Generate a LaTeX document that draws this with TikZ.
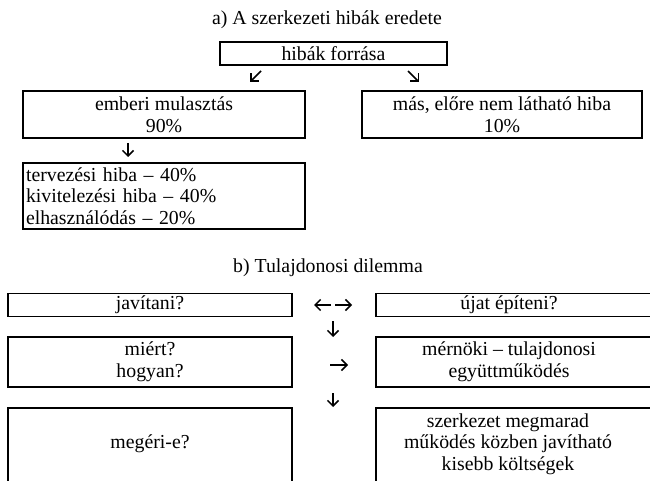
\documentclass[tikz,border=0pt]{standalone}
\usepackage{fontspec}
\setmainfont{Liberation Serif}
\usetikzlibrary{arrows.meta}
\begin{document}
\begin{tikzpicture}[x=1pt,y=-1pt,
  box/.style={draw, line width=1.9pt, inner sep=0pt, align=center, font=\fontsize{19.8}{21.5}\selectfont},
  txt/.style={inner sep=0pt, align=center, font=\fontsize{19.8}{21.5}\selectfont},
  arr/.style={line width=1.5pt, -{Straight Barb[length=5.5pt,width=11pt]}}]
\useasboundingbox (0,0) rectangle (650,481);
% part a
\node[txt] (ta) at (327,20) {a) A szerkezeti hibák eredete};
\node[box, minimum width=227pt, minimum height=23pt] (src) at (333.5,53.5) {hibák forrása};
\node[box, minimum width=282pt, minimum height=47pt] (hum) at (164,114.5) {emberi mulasztás\\90\%};
\node[box, minimum width=280pt, minimum height=47pt] (oth) at (502,114.5) {más, előre nem látható hiba\\10\%};
\node[box, minimum width=282pt, minimum height=66pt, text width=276pt, align=left] (det) at (164,196) {tervezési hiba – 40\%\\kivitelezési hiba – 40\%\\elhasználódás – 20\%};
\coordinate (a1s) at (261,71); \coordinate (a1e) at (250,82);
\coordinate (a2s) at (408,71); \coordinate (a2e) at (419,82);
\coordinate (a3s) at (128,143); \coordinate (a3e) at (128,157);
\draw[arr] (a1s) -- (a1e);
\draw[arr] (a2s) -- (a2e);
\draw[arr] (a3s) -- (a3e);
% part b
\node[txt] (tb) at (328,268) {b) Tulajdonosi dilemma};
\node[box, minimum width=284pt, minimum height=23pt] (jav) at (150,305) {javítani?};
\node[box, minimum width=280pt, minimum height=23pt] (uj) at (516,305) {};
\node[txt] (ujt) at (509,305) {újat építeni?};
\node[box, minimum width=284pt, minimum height=50pt] (mi) at (150,362) {miért?\\hogyan?};
\node[box, minimum width=280pt, minimum height=50pt] (mt) at (516,362) {};
\node[txt] (mtt) at (509,362) {mérnöki – tulajdonosi\\együttműködés};
\node[box, minimum width=284pt, minimum height=84pt] (me) at (150,450) {};
\node[txt] (met) at (150,444) {megéri-e?};
\node[box, minimum width=280pt, minimum height=84pt] (sz) at (516,450) {};
\node[txt] (szt) at (508,444) {szerkezet megmarad\\működés közben javítható\\kisebb költségek};
\coordinate (b1a) at (331,305); \coordinate (b1b) at (314,305);
\coordinate (b2a) at (335,305); \coordinate (b2b) at (352,305);
\coordinate (b3a) at (333,321); \coordinate (b3b) at (333,337);
\coordinate (b4a) at (330,365); \coordinate (b4b) at (348,365);
\coordinate (b5a) at (333,393); \coordinate (b5b) at (333,407);
\draw[arr] (b1a) -- (b1b);
\draw[arr] (b2a) -- (b2b);
\draw[arr] (b3a) -- (b3b);
\draw[arr] (b4a) -- (b4b);
\draw[arr] (b5a) -- (b5b);
\end{tikzpicture}
\end{document}
